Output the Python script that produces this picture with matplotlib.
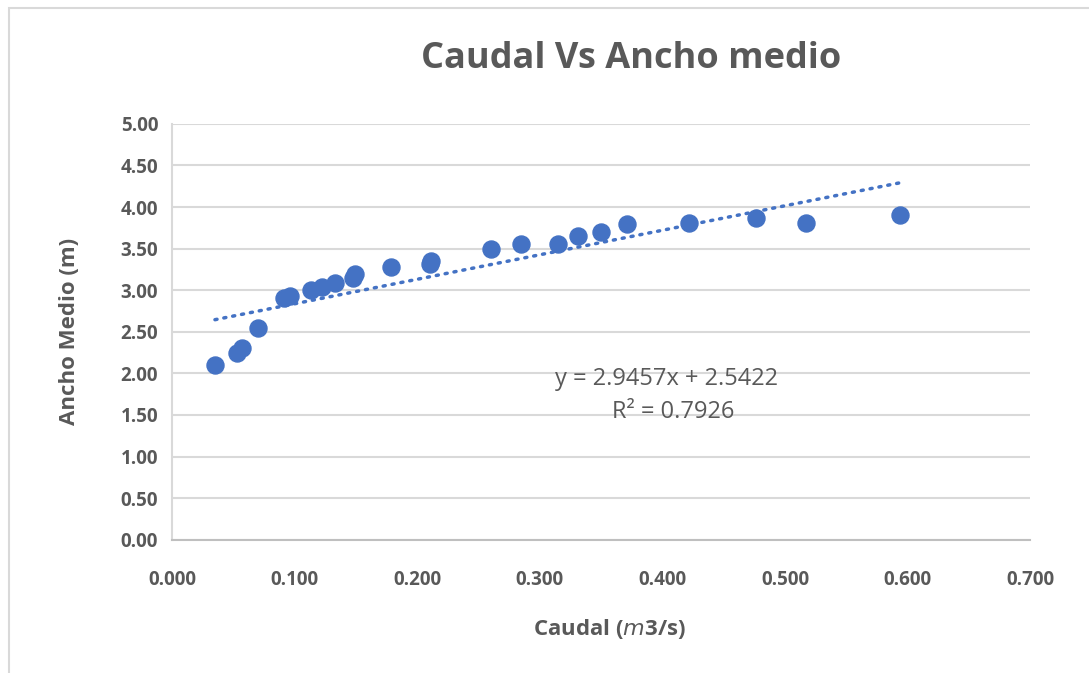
import matplotlib.pyplot as plt
import numpy as np
from matplotlib.patches import Rectangle

plt.rcParams['font.family'] = ['Open Sans', 'DejaVu Sans']

# data
caudal = [0.035, 0.053, 0.057, 0.070, 0.091, 0.096, 0.113, 0.122, 0.133, 0.148,
          0.149, 0.179, 0.210, 0.211, 0.260, 0.285, 0.315, 0.331, 0.350, 0.371,
          0.422, 0.476, 0.517, 0.594]
ancho = [2.10, 2.25, 2.30, 2.55, 2.91, 2.93, 3.00, 3.04, 3.09, 3.15,
         3.20, 3.28, 3.31, 3.35, 3.49, 3.56, 3.55, 3.65, 3.70, 3.79,
         3.81, 3.87, 3.81, 3.91]
slope, intercept, r2 = 2.9457, 2.5422, 0.7926

blue = '#4472C4'
gray = '#595959'

fig = plt.figure(figsize=(10.89, 6.73), dpi=100)
ax = fig.add_axes([0.158, 0.198, 0.788, 0.618])

# outer chart border
fig.patches.append(Rectangle((0.008, -0.02), 1.1, 1.008, transform=fig.transFigure,
                             fill=False, edgecolor='#d9d9d9', lw=1.5))

ax.scatter(caudal, ancho, s=150, color=blue, zorder=3)

xs = np.array([min(caudal), max(caudal)])
ax.plot(xs, slope * xs + intercept, color=blue, lw=2.5,
        linestyle=(0, (0.6, 2.0)), dash_capstyle='round', zorder=2)

ax.set_xlim(0, 0.7)
ax.set_ylim(0, 5)
ax.set_xticks(np.arange(0, 0.71, 0.1))
ax.set_yticks(np.arange(0, 5.01, 0.5))
ax.set_xticklabels([f'{v:.3f}' for v in np.arange(0, 0.71, 0.1)])
ax.set_yticklabels([f'{v:.2f}' for v in np.arange(0, 5.01, 0.5)])
ax.tick_params(length=0, labelsize=13.5, labelcolor=gray)
ax.tick_params(axis='x', pad=22)
ax.tick_params(axis='y', pad=10)
for lab in ax.get_xticklabels() + ax.get_yticklabels():
    lab.set_fontweight('bold')

ax.grid(axis='y', color='#d9d9d9', lw=1.5)
ax.set_axisbelow(True)
for s in ['top', 'right']:
    ax.spines[s].set_visible(False)
ax.spines['left'].set_color('#d9d9d9')
ax.spines['bottom'].set_color('#bfbfbf')
ax.spines['left'].set_linewidth(1.5)
ax.spines['bottom'].set_linewidth(1.5)

ax.set_title('Caudal Vs Ancho medio', fontsize=26, fontweight='bold', color=gray,
             pad=40, x=0.535)
ax.set_xlabel('Caudal ($m$3/s)', fontsize=16, fontweight='bold', color=gray, labelpad=19)
ax.xaxis.label.set_x(0.51)
ax.set_ylabel('Ancho Medio (m)', fontsize=16, fontweight='bold', color=gray, labelpad=29)

ax.text(0.403, 1.93, f'y = {slope}x + {intercept}', fontsize=17, color=gray, ha='center', va='center')
ax.text(0.409, 1.54, f'R² = {r2}', fontsize=17, color=gray, ha='center', va='center')

fig.savefig('out.png', dpi=100)
